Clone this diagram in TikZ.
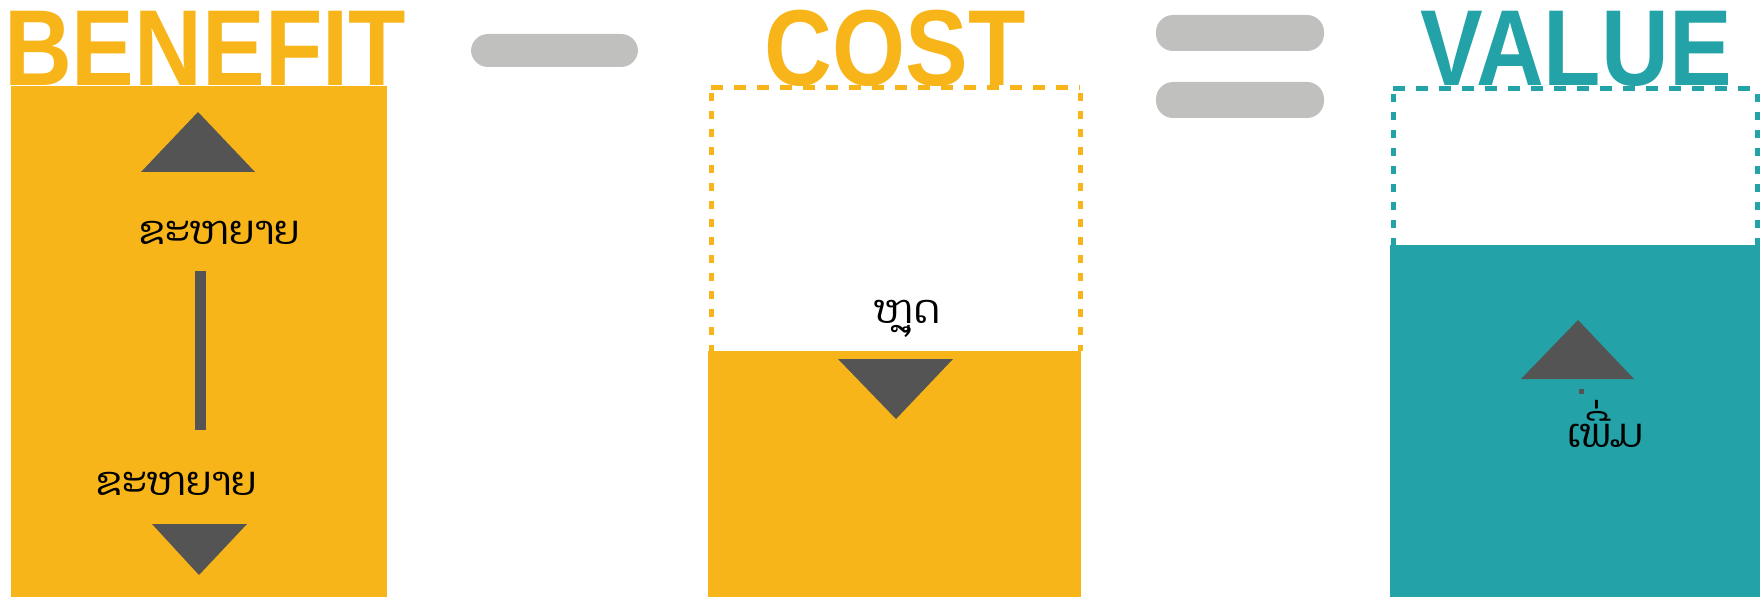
\documentclass[tikz,border=0pt]{standalone}
\usepackage{fontspec}
\setmainfont{Liberation Sans}
\newfontfamily\laofont[Script=Lao]{Dhyana}
\definecolor{cyel}{HTML}{F7B519}
\definecolor{cteal}{HTML}{23A3A7}
\definecolor{cbar}{HTML}{C0C0BF}
\definecolor{cdark}{HTML}{545454}
\tikzset{
  title/.style={anchor=base, inner sep=0pt, font=\bfseries\fontsize{108bp}{118bp}\selectfont, xscale=0.87},
  laotext/.style={anchor=base, inner sep=0pt, text=black, font=\laofont\fontsize{40bp}{48bp}\selectfont},
  opbar/.style={fill=cbar, rounded corners=17bp},
  arrowtri/.style={fill=cdark},
  dashtop/.style={line width=5bp, dash pattern=on 12bp off 11bp},
  dashside/.style={line width=5bp, dash pattern=on 8bp off 10bp}
}
\begin{document}
\begin{tikzpicture}[x=1bp,y=-1bp]
\useasboundingbox (0,0) rectangle (1760,597);
% titles
\node[title, text=cyel] (tbenefit) at (205,86) {BENEFIT};
\node[title, text=cyel] (tcost) at (895,86) {COST};
\node[title, text=cteal] (tvalue) at (1576,86) {VALUE};
% operators
\fill[opbar] (471,34) rectangle (638,67);
\fill[opbar] (1156,15) rectangle (1324,51);
\fill[opbar] (1156,82) rectangle (1324,118);
% benefit column
\fill[cyel] (11,86) rectangle (387,597);
\fill[arrowtri] (198,112) -- (255,172) -- (141,172) -- cycle;
\fill[cdark] (195,271) rectangle (206,430);
\fill[arrowtri] (152,524) -- (247,524) -- (199,575) -- cycle;
\node[laotext] (bup) at (219,245) {ຂະຫຍາຍ};
\node[laotext] (bdown) at (176,495) {ຂະຫຍາຍ};
% cost column
\fill[cyel] (708,351) rectangle (1081,597);
\draw[cyel, dashtop] (711,88) -- (1080,88);
\draw[cyel, dashside] (711,93) -- (711,351);
\draw[cyel, dashside] (1080,93) -- (1080,351);
\fill[arrowtri] (838,359) -- (953,359) -- (896,419) -- cycle;
\node[laotext] (cdown) at (907,323) {ຫຼຸດ};
% value column
\fill[cteal] (1390,245) rectangle (1760,597);
\draw[cteal, dashtop] (1393,89) -- (1760,89);
\draw[cteal, dashside] (1393,94) -- (1393,245);
\draw[cteal, dashside] (1757,94) -- (1757,245);
\fill[arrowtri] (1578,320) -- (1634,379) -- (1521,379) -- cycle;
\fill[cdark] (1579,389) rectangle (1584,394);
\node[laotext] (vup) at (1605,447) {ເພີ່ມ};
\end{tikzpicture}
\end{document}
